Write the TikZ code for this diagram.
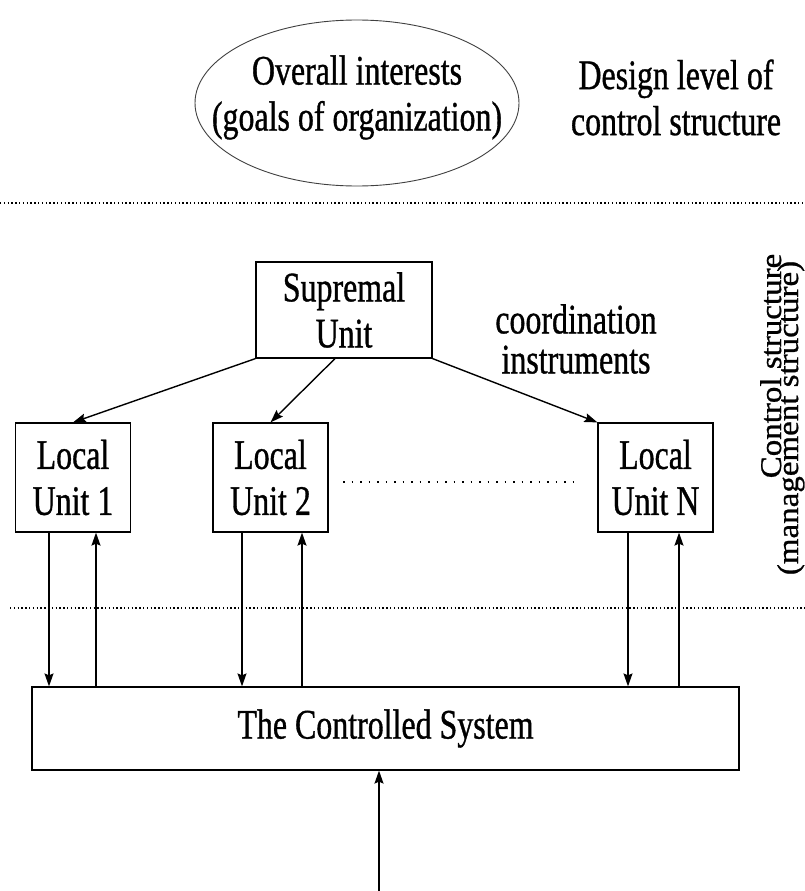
\documentclass[tikz,border=0pt]{standalone}
\usepackage{fontspec}
\setmainfont{Liberation Serif}[FakeStretch=0.76,FakeBold=0.8]
\newfontfamily\vfont{Liberation Serif}[FakeStretch=1.1,FakeBold=0.8]
\usetikzlibrary{arrows.meta,shapes.geometric}
\begin{document}
\begin{tikzpicture}[x=1pt,y=-1pt,
  every node/.style={font=\fontsize{42}{46}\selectfont, inner sep=0pt, align=center},
  boxed/.style={draw, line width=1.2pt},
  unitbox/.style={boxed, minimum width=115pt, minimum height=109pt},
  arr/.style={line width=1.4pt, -{Stealth[length=13pt,width=9pt,inset=2pt]}},
  sepline/.style={line width=1.7pt, dash pattern=on 1.4pt off 2.4pt},
  gapline/.style={line width=1.8pt, dash pattern=on 1.8pt off 6.7pt},
  vlabel/.style={font=\vfont\fontsize{30}{30}\selectfont, rotate=90, anchor=base}
]
\useasboundingbox (0,0) rectangle (805,891);
\fill[white] (0,0) rectangle (805,891);

% top level
\node[draw=black!75, line width=0.9pt, ellipse, minimum width=324pt, minimum height=166pt] (goal) at (357,103) {};
\node (goaltext) at (357,97.5) {Overall interests\\(goals of organization)};
\node (design) at (676,97.5) {Design level of\\control structure};

% separators
\coordinate (s1a) at (0,203);
\coordinate (s1b) at (805,203);
\coordinate (s2a) at (10,608);
\coordinate (s2b) at (805,608);
\draw[sepline] (s1a) -- (s1b);
\draw[sepline] (s2a) -- (s2b);

% control structure
\node[boxed, minimum width=176pt, minimum height=96pt] (sup) at (344,310) {Supremal\\Unit};
\node (coord) at (576,339) {coordination\\[-6pt]instruments};

\node[unitbox] (u1) at (73,477.5) {Local\\Unit 1};
\node[unitbox] (u2) at (270.5,477.5) {Local\\Unit 2};
\node[unitbox] (uN) at (655.5,477.5) {Local\\Unit N};

\draw[arr] (sup.south west) -- (u1.north);
\draw[arr] ([xshift=-9pt]sup.south) -- (u2.north);
\draw[arr] (sup.south east) -- (uN.north west);

\coordinate (g1) at (343,482);
\coordinate (g2) at (578,482);
\draw[gapline] (g1) -- (g2);

\node[vlabel] (ctl) at (781,366) {Control structure};
\node[vlabel] (mgmt) at (798,418) {(management structure)};

% controlled system
\node[boxed, minimum width=707pt, minimum height=83pt] (cs) at (385.5,728.5) {The Controlled System};

\draw[arr] (49,0 |- u1.south) -- (49,0 |- cs.north);
\draw[arr] (96,0 |- cs.north) -- (96,0 |- u1.south);
\draw[arr] (242,0 |- u2.south) -- (242,0 |- cs.north);
\draw[arr] (302,0 |- cs.north) -- (302,0 |- u2.south);
\draw[arr] (628,0 |- uN.south) -- (628,0 |- cs.north);
\draw[arr] (679,0 |- cs.north) -- (679,0 |- uN.south);

\coordinate (inp) at (379,891);
\draw[arr] (inp) -- (inp |- cs.south);
\end{tikzpicture}
\end{document}
